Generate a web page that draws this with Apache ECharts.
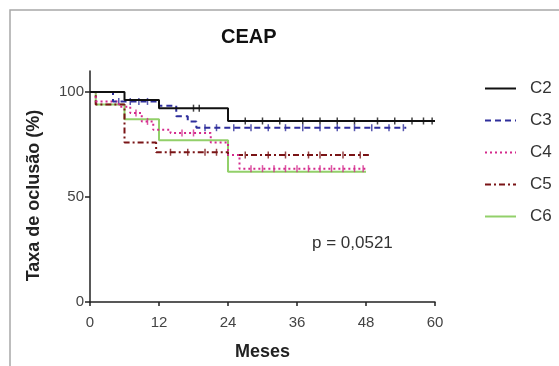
<!DOCTYPE html>
<html>
<head>
<meta charset="utf-8">
<script src="https://cdn.jsdelivr.net/npm/echarts@6/dist/echarts.min.js"></script>
<style>
  html, body { margin: 0; padding: 0; background: #fff; }
  #chart { width: 559px; height: 366px; }
</style>
</head>
<body>
<div id="chart"></div>
<script>
// Kaplan-Meier step points [month, %]
const c2Steps = [[0, 100], [6, 96.2], [12, 92.3], [24, 86.2], [60, 86.2]];
const c3Steps = [[0, 100], [4, 95.5], [12, 93.5], [15, 88.5], [17, 86], [18.5, 83], [55, 83]];
const c4Steps = [[0, 100], [1, 95.5], [5, 93], [7, 90], [9, 86], [11, 82], [14, 80.5], [21, 76], [24, 70], [26, 63.5], [48, 63.5]];
const c5Steps = [[0, 100], [1, 94], [6, 76], [11.5, 71.3], [24, 70], [48.5, 70]];
const c6Steps = [[0, 100], [1, 94], [6, 87], [12, 77], [24, 62], [48, 62]];

// censored observations (months)
const c2Censor = [18, 19, 27, 30, 33, 37, 40, 43, 46, 50, 53, 56, 58, 59.5];
const c3Censor = [5, 7, 8.5, 10, 20, 22, 25, 28, 31, 34, 37, 40, 43, 46, 49, 52, 54.5];
const c4Censor = [8, 10, 16, 18, 28, 30, 32, 34, 36, 38, 40, 42, 44, 46, 47.5];
const c5Censor = [14, 17, 20, 22, 27, 31, 34, 38, 40, 44, 47];
const c6Censor = [];

const seriesNames = ['C2', 'C3', 'C4', 'C5', 'C6'];
const yTicks = [0, 50, 100];

const steps = [c2Steps, c3Steps, c4Steps, c5Steps, c6Steps];
const censors = [c2Censor, c3Censor, c4Censor, c5Censor, c6Censor];
const colors = ['#111111', '#2e2e9c', '#d42a8c', '#7a1416', '#92d06a'];
const lineTypes = ['solid', [6, 4], [2, 3], [6, 3, 2, 3], 'solid'];
const FONT = 'Liberation Sans, Arial, sans-serif';

function valueAt(stepArr, t) {
  let v = stepArr[0][1];
  for (const p of stepArr) {
    if (p[0] <= t) v = p[1];
  }
  return v;
}

const chart = echarts.init(document.getElementById('chart'));

const series = [];
seriesNames.forEach((name, i) => {
  series.push({
    name: name,
    type: 'line',
    step: 'end',
    data: steps[i],
    symbol: 'none',
    lineStyle: { color: colors[i], width: 2, type: lineTypes[i] },
    itemStyle: { color: colors[i] },
    z: 5 - i,
  });
});
seriesNames.forEach((name, i) => {
  series.push({
    name: name + ' censor',
    type: 'scatter',
    data: censors[i].map((t) => [t, valueAt(steps[i], t)]),
    symbol: 'rect',
    symbolSize: [1.5, 7],
    itemStyle: { color: colors[i] },
    silent: true,
  });
});

chart.setOption({
  animation: false,
  textStyle: { fontFamily: FONT },
  title: {
    text: 'CEAP',
    left: 221,
    top: 27,
    padding: 0,
    textStyle: { fontSize: 20, fontWeight: 'bold', color: '#111' },
  },
  legend: {
    data: seriesNames,
    orient: 'vertical',
    left: 484,
    top: 80,
    padding: 0,
    itemWidth: 31,
    itemHeight: 14,
    itemGap: 15,
    itemStyle: { color: 'rgba(0,0,0,0)', borderWidth: 0 },
    textStyle: { fontSize: 17, color: '#333', padding: [0, 0, 0, 9] },
  },
  grid: { left: 90, right: 124, top: 71, bottom: 64 },
  xAxis: {
    type: 'value',
    min: 0,
    max: 60,
    interval: 12,
    name: 'Meses',
    nameLocation: 'middle',
    nameGap: 41,
    nameTextStyle: { fontSize: 18, fontWeight: 'bold', color: '#222' },
    axisLine: { lineStyle: { color: '#222', width: 1.5 } },
    axisTick: { length: 4, lineStyle: { color: '#222', width: 1.5 } },
    axisLabel: { fontSize: 15, color: '#444', margin: 13 },
    splitLine: { show: false },
  },
  yAxis: {
    type: 'value',
    min: 0,
    max: 110,
    name: 'Taxa de oclusão (%)',
    nameLocation: 'middle',
    nameGap: 47,
    nameTextStyle: { fontSize: 18, fontWeight: 'bold', color: '#222', padding: [0, 18, 0, 0] },
    axisLine: { show: true, lineStyle: { color: '#222', width: 1.5 } },
    axisTick: { show: true, length: 5, customValues: yTicks, lineStyle: { color: '#222', width: 1.5 } },
    axisLabel: { fontSize: 15, color: '#444', margin: 6, customValues: yTicks },
    splitLine: { show: false },
  },
  graphic: [
    {
      type: 'rect',
      shape: { x: 10, y: 10, width: 600, height: 400 },
      style: { fill: 'none', stroke: '#a8a8a8', lineWidth: 1.5 },
      silent: true,
    },
    {
      type: 'text',
      left: 312,
      top: 235,
      style: { text: 'p = 0,0521', fontSize: 17, fill: '#333', fontFamily: FONT },
    },
  ],
  series: series,
});
</script>
</body>
</html>
